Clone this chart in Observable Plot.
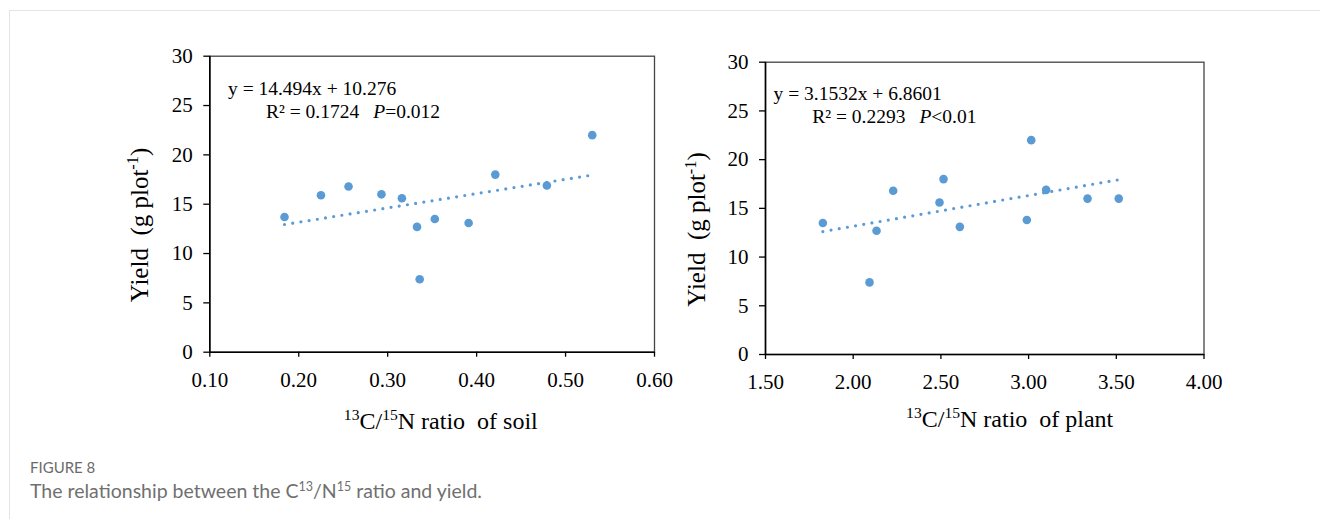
<!DOCTYPE html>
<html>
<head>
<meta charset="utf-8">
<script src="https://cdn.jsdelivr.net/npm/d3@7"></script>
<script src="https://cdn.jsdelivr.net/npm/@observablehq/plot@0.6"></script>
<style>
  body { margin: 0; background: #fff; width: 1320px; height: 519px; overflow: hidden; position: relative; font-family: Lato, 'Open Sans', sans-serif; }
  #box { position: absolute; left: 9px; top: 10px; right: 0; bottom: 0; border-left: 1.5px solid #e4e4e4; border-top: 1.5px solid #e4e4e4; }
  #left { position: absolute; left: 100px; top: 40px; }
  #right { position: absolute; left: 670px; top: 40px; }
  #fig { position: absolute; left: 30px; top: 458px; font-size: 15px; color: #6b6b6b; line-height: 18px; }
  #cap { position: absolute; left: 30px; top: 479px; font-size: 19.5px; color: #707070; line-height: 24px; }
  #cap sup { font-size: 12.5px; line-height: 0; }
  svg text { font-family: 'Liberation Serif', 'Times New Roman', serif; }
</style>
</head>
<body>
<div id="box"></div>
<div id="left"></div>
<div id="right"></div>
<div id="fig">FIGURE 8</div>
<div id="cap">The relationship between the C<sup>13</sup>/N<sup>15</sup> ratio and yield.</div>
<script>
// ---- data ----
const soilRatio  = [0.184, 0.225, 0.256, 0.293, 0.316, 0.333, 0.336, 0.353, 0.391, 0.421, 0.479, 0.530];
const soilYield  = [13.7, 15.9, 16.8, 16.0, 15.6, 12.7, 7.4, 13.5, 13.1, 18.0, 16.9, 22.0];
const plantRatio = [1.827, 2.093, 2.133, 2.228, 2.492, 2.515, 2.608, 2.990, 3.015, 3.100, 3.336, 3.514];
const plantYield = [13.5, 7.4, 12.7, 16.8, 15.6, 18.0, 13.1, 13.8, 22.0, 16.9, 16.0, 16.0];

const soilFit  = {slope: 14.494, intercept: 10.276};
const plantFit = {slope: 3.1532, intercept: 6.8601};

const soilXTicks  = [0.1, 0.2, 0.3, 0.4, 0.5, 0.6];
const plantXTicks = [1.5, 2.0, 2.5, 3.0, 3.5, 4.0];
const yTicks = [0, 5, 10, 15, 20, 25, 30];

const soilEq1 = "y = 14.494x + 10.276", soilR2 = "R² = 0.1724", soilP = "=0.012";
const plantEq1 = "y = 3.1532x + 6.8601", plantR2 = "R² = 0.2293", plantP = "<0.01";
const soilXTitle = [["13", true], ["C/", false], ["15", true], ["N ratio  of soil", false]];
const plantXTitle = [["13", true], ["C/", false], ["15", true], ["N ratio  of plant", false]];
const yTitle = [["Yield  (g plot", false], ["-1", true], [")", false]];

const BLUE = "#5b9bd5";

function rows(xs, ys) { return xs.map((x, i) => ({x, y: ys[i]})); }
function trend(xs, fit) { return d3.extent(xs).map(x => ({x, y: fit.slope * x + fit.intercept})); }

function makePlot(cfg) {
  const pts = rows(cfg.xs, cfg.ys);
  const plot = Plot.plot({
    width: cfg.width, height: cfg.height,
    marginLeft: cfg.ml, marginRight: cfg.mr, marginTop: cfg.mt, marginBottom: cfg.mb,
    style: {fontFamily: "'Liberation Serif', 'Times New Roman', serif", fontSize: "21px", color: "black", background: "transparent"},
    x: {domain: cfg.xDomain},
    y: {domain: [0, 30]},
    marks: [
      Plot.frame({stroke: "#444", strokeWidth: 1.3}),
      Plot.axisX({ticks: cfg.xTicks, tickFormat: d => d.toFixed(2), tickSize: 5, tickPadding: 15, label: null, fontSize: 21, strokeWidth: 1.3}),
      Plot.axisY({ticks: yTicks, tickSize: 6, tickPadding: 11, label: null, fontSize: 21, strokeWidth: 1.3}),
      Plot.ruleY([0], {stroke: "black", strokeWidth: 1.6}),
      Plot.ruleX([cfg.xDomain[0]], {stroke: "black", strokeWidth: 1.6}),
      Plot.line(trend(cfg.xs, cfg.fit), {x: "x", y: "y", stroke: BLUE, strokeWidth: 3.2, strokeDasharray: "0 8.3", strokeLinecap: "round"}),
      Plot.dot(pts, {x: "x", y: "y", r: 4.3, fill: BLUE})
    ]
  });
  const svg = d3.select(plot);
  const rich = (g, parts, size) => {
    parts.forEach(([t, sup], i) => {
      const prev = i > 0 ? parts[i - 1][1] : false;
      const ts = g.append("tspan").text(t);
      if (sup) { ts.attr("font-size", size * 0.65).attr("dy", -size * 0.38); }
      else if (prev) { ts.attr("dy", size * 0.38); }
    });
  };
  // x title
  const xt = svg.append("text").attr("x", cfg.xTitle[0]).attr("y", cfg.xTitle[1])
    .attr("text-anchor", "middle").attr("font-size", 24).attr("fill", "black");
  rich(xt, cfg.xTitleParts, 24);
  // y title
  const yt = svg.append("text").attr("transform", `translate(${cfg.yTitle[0]},${cfg.yTitle[1]}) rotate(-90)`)
    .attr("text-anchor", "middle").attr("font-size", 25).attr("fill", "black");
  rich(yt, yTitle, 25);
  // equations
  svg.append("text").attr("x", cfg.eq1[0]).attr("y", cfg.eq1[1]).attr("text-anchor", "start")
    .attr("font-size", 19.5).attr("fill", "black").text(cfg.eqText);
  const e2 = svg.append("text").attr("x", cfg.eq2[0]).attr("y", cfg.eq2[1]).attr("text-anchor", "start")
    .attr("font-size", 19.5).attr("fill", "black");
  e2.append("tspan").text(cfg.r2Text);
  e2.append("tspan").attr("dx", 14).attr("font-style", "italic").text("P");
  e2.append("tspan").text(cfg.pText);
  return plot;
}

document.getElementById("left").appendChild(makePlot({
  xs: soilRatio, ys: soilYield, fit: soilFit, xDomain: [0.1, 0.6], xTicks: soilXTicks,
  width: 590, height: 412, ml: 109.3, mr: 36, mt: 15.7, mb: 100.3,
  xTitle: [340.8, 389.3], xTitleParts: soilXTitle, yTitle: [47.7, 185],
  eq1: [128, 55], eq2: [166, 78], eqText: soilEq1, r2Text: soilR2, pText: soilP
}));

document.getElementById("right").appendChild(makePlot({
  xs: plantRatio, ys: plantYield, fit: plantFit, xDomain: [1.5, 4.0], xTicks: plantXTicks,
  width: 570, height: 414, ml: 95, mr: 36.5, mt: 21.7, mb: 100,
  xTitle: [339.7, 387.3], xTitleParts: plantXTitle, yTitle: [35, 189.5],
  eq1: [103.6, 59.5], eq2: [142.2, 82.9], eqText: plantEq1, r2Text: plantR2, pText: plantP
}));
</script>
</body>
</html>
